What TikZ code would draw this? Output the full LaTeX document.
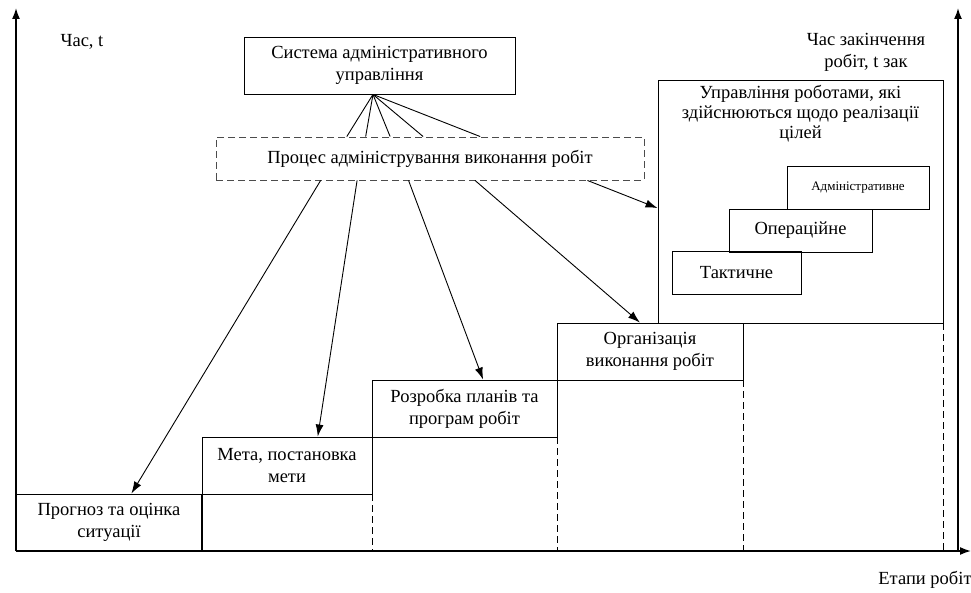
\documentclass[tikz,border=0pt]{standalone}
\usepackage{fontspec}
\setmainfont{Liberation Serif}
\usetikzlibrary{arrows.meta,positioning,calc}

\begin{document}
\begin{tikzpicture}[x=1pt,y=-1pt,font=\rmfamily\fontsize{18.5}{22}\selectfont]

\tikzstyle{stage} = [draw, line width=0.9pt, align=center, inner sep=0pt, minimum height=57pt]
\tikzstyle{level} = [draw, line width=0.9pt, inner sep=0pt, minimum height=43pt]
\tikzstyle{axis} = [line width=1.6pt, -{Latex[length=11pt,width=8pt]}]
\tikzstyle{conn} = [line width=0.9pt]
\tikzstyle{arr} = [line width=0.9pt, -{Latex[length=12pt,width=8pt]}]
\tikzstyle{gap} = [line width=0.9pt, dash pattern=on 7pt off 4pt]

\useasboundingbox (0,0) rectangle (971,593);

% axes
\coordinate (origin) at (16,551);
\coordinate (t-top) at (16,8);
\coordinate (s-end) at (971,551);
\coordinate (tend-bottom) at (958,551);
\coordinate (tend-top) at (958,8);
\draw[axis] (origin) -- (t-top);
\draw[axis] (origin) -- (s-end);
\draw[axis] (tend-bottom) -- (tend-top);

\node[anchor=west] (t-label) at (57,42) {Час, t};
\node[align=center] (tend-label) at (866,52) {Час закінчення\\робіт, t зак};
\node (stages-label) at (925,580) {Етапи робіт};

% stages
\node[stage, minimum width=186pt] (prog) at (109,522.5) {Прогноз та оцінка\\ситуації};
\node[stage, minimum width=170pt] (goal) at (287,465.5) {Мета, постановка\\мети};
\node[stage, minimum width=185pt] (plan) at (464.5,408.5) {Розробка планів та\\програм  робіт};
\node[stage, minimum width=186pt] (org) at (650,351.5) {Організація\\виконання робіт};

\node[draw, line width=0.9pt, minimum width=285pt, minimum height=243pt] (upr) at (800.5,201.5) {};
\node[below=6pt of upr.north, align=center, inner sep=0pt, font=\rmfamily\fontsize{18.5}{20}\selectfont] (upr-text) {Управління роботами, які\\здійснюються  щодо реалізації\\цілей};

\node[level, minimum width=129pt] (tact) at (736.5,273) {Тактичне};
\node[level, minimum width=143pt] (oper) at (800.5,230.5) {Операційне};
\node[level, minimum width=142pt, font=\rmfamily\fontsize{13}{15}\selectfont] (adm) at (858,187.5) {Адміністративне};

\draw[conn] (goal.south west) -- (goal.south west |- origin);
\draw[gap] (goal.south east) -- (goal.south east |- origin);
\draw[gap] (plan.south east) -- (plan.south east |- origin);
\draw[gap] (org.south east) -- (org.south east |- origin);
\draw[gap] (upr.south east) -- (upr.south east |- origin);

% administration
\node[draw, line width=0.9pt, minimum width=271pt, minimum height=57pt, align=center, inner sep=0pt] (sys) at (379.5,65.5) {Система адміністративного\\управління};
\node[gap, draw=black!70, minimum width=428pt, minimum height=43pt, inner sep=0pt] (proc) at (430,158.5) {Процес адміністрування  виконання робіт};

\foreach \f in {0.306,0.350,0.407,0.484,0.617}
  \draw[conn] ($(sys.south west)!0.476!(sys.south east)$) -- ($(proc.north west)!\f!(proc.north east)$);

\draw[arr] ($(proc.south west)!0.245!(proc.south east)$) -- ($(prog.north west)!0.62!(prog.north east)$);
\draw[arr] ($(proc.south west)!0.33!(proc.south east)$) -- ($(goal.north west)!0.68!(goal.north east)$);
\draw[arr] ($(proc.south west)!0.45!(proc.south east)$) -- ($(plan.north west)!0.6!(plan.north east)$);
\draw[arr] ($(proc.south west)!0.605!(proc.south east)$) -- ($(org.north west)!0.446!(org.north east)$);
\draw[arr] ($(proc.south west)!0.867!(proc.south east)$) -- ($(upr.north west)!0.527!(upr.south west)$);

\end{tikzpicture}
\end{document}
